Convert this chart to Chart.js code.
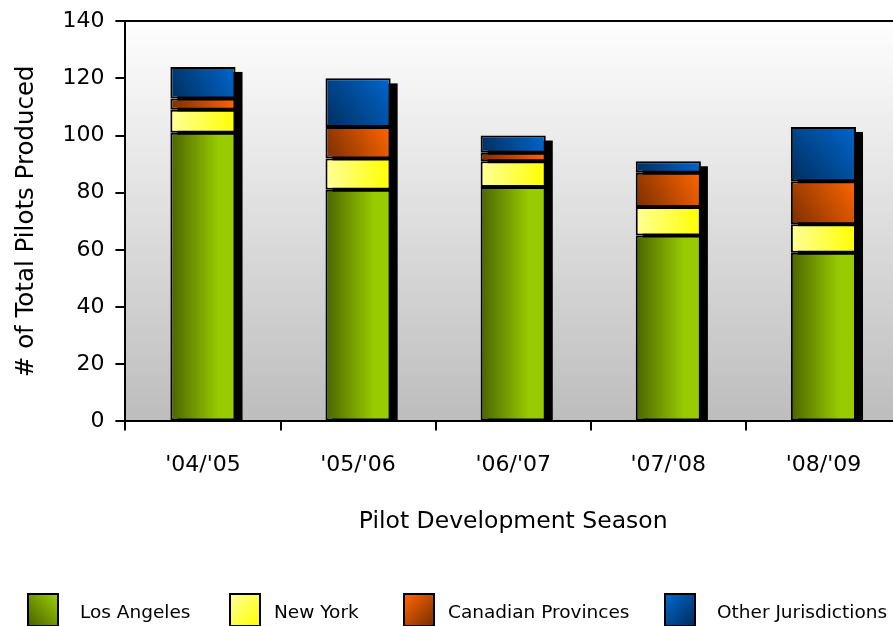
<!DOCTYPE html>
<html>
<head>
<meta charset="utf-8">
<script src="https://cdn.jsdelivr.net/npm/chart.js@4.4.0/dist/chart.umd.min.js"></script>
<style>
  html, body { margin: 0; padding: 0; background: #fff; overflow: hidden; }
  #wrap { position: relative; width: 910px; height: 626px; overflow: hidden; }
  #pilots { position: absolute; left: 0; top: -3px; }
  #legend { position: absolute; left: 0; top: 593px; width: 893px; height: 33px; font-family: "DejaVu Sans", sans-serif; font-size: 18.5px; color: #000; }
  .box { position: absolute; top: 0; width: 28px; height: 30px; border: 2px solid #000; }
  .lbl { position: absolute; top: 8px; white-space: nowrap; }
</style>
</head>
<body>
<div id="wrap">
  <canvas id="pilots" width="910" height="629"></canvas>
  <div id="legend"></div>
</div>
<script>
var seasons = ["'04/'05", "'05/'06", "'06/'07", "'07/'08", "'08/'09"];
var losAngeles = [101, 81, 82, 65, 59];
var newYork = [8, 11, 9, 10, 10];
var canadian = [4, 11, 3, 12, 15];
var otherJur = [11, 17, 6, 4, 19];
var yTicks = [0, 20, 40, 60, 80, 100, 120, 140];

var seriesNames = ["Los Angeles", "New York", "Canadian Provinces", "Other Jurisdictions"];
var seriesData = [losAngeles, newYork, canadian, otherJur];
// dark, light, diagonal gradient?
var seriesColors = [
  ["#4a6400", "#99cc00", false],
  ["#ffff99", "#ffff00", false],
  ["#7a2e00", "#ff6600", true],
  ["#002e5e", "#0066cc", true]
];
var barPct = 0.42;
var fontFam = "DejaVu Sans";

function barFill(si) {
  return function (ctx) {
    var chart = ctx.chart;
    var c = seriesColors[si];
    if (!chart.chartArea || !chart.scales.x) return c[1];
    var xs = chart.scales.x, ys = chart.scales.y;
    var cx = xs.getPixelForValue(ctx.dataIndex);
    var hw = (xs.width / seasons.length) * barPct / 2;
    var start = 0;
    for (var k = 0; k < si; k++) start += seriesData[k][ctx.dataIndex];
    var end = start + seriesData[si][ctx.dataIndex];
    var yb = ys.getPixelForValue(start), yt = ys.getPixelForValue(end);
    var g;
    if (c[2]) {
      g = chart.ctx.createLinearGradient(cx - hw, yb, cx + hw, yt);
    } else {
      g = chart.ctx.createLinearGradient(cx - hw, 0, cx + hw, 0);
    }
    g.addColorStop(0, c[0]);
    g.addColorStop(si === 0 ? 0.75 : 1, c[1]);
    g.addColorStop(1, c[1]);
    return g;
  };
}

var bgPlugin = {
  id: "plotBg",
  beforeDraw: function (chart) {
    var a = chart.chartArea, ctx = chart.ctx;
    var g = ctx.createLinearGradient(0, a.top, 0, a.bottom);
    g.addColorStop(0, "#fefefe");
    g.addColorStop(1, "#bdbdbd");
    ctx.save();
    ctx.fillStyle = g;
    ctx.fillRect(a.left, a.top, a.right - a.left, a.bottom - a.top);
    ctx.restore();
  }
};

var shadowPlugin = {
  id: "barShadow",
  beforeDatasetsDraw: function (chart) {
    var ctx = chart.ctx, a = chart.chartArea;
    var first = chart.getDatasetMeta(0), last = chart.getDatasetMeta(seriesData.length - 1);
    ctx.save();
    ctx.beginPath();
    ctx.rect(a.left, a.top, a.right - a.left, a.bottom - a.top);
    ctx.clip();
    ctx.fillStyle = "#000";
    for (var i = 0; i < seasons.length; i++) {
      var top = last.data[i], bot = first.data[i];
      ctx.fillRect(top.x - top.width / 2 + 7, top.y + 5, top.width, bot.base - top.y);
    }
    ctx.restore();
  }
};

var datasets = seriesNames.map(function (name, si) {
  return {
    label: name,
    data: seriesData[si],
    backgroundColor: barFill(si),
    borderColor: "#000",
    borderWidth: 2,
    borderSkipped: false,
    categoryPercentage: 1,
    barPercentage: barPct
  };
});

new Chart(document.getElementById("pilots"), {
  type: "bar",
  data: { labels: seasons, datasets: datasets },
  plugins: [bgPlugin, shadowPlugin],
  options: {
    responsive: false,
    animation: false,
    layout: { padding: { top: 6, right: 9, left: 12, bottom: 90 } },
    plugins: { legend: { display: false }, tooltip: { enabled: false } },
    scales: {
      x: {
        stacked: true,
        offset: true,
        grid: { offset: true, drawOnChartArea: false, color: "#000", tickColor: "#000", tickLength: 9, lineWidth: 2 },
        border: { color: "#000", width: 2 },
        ticks: { color: "#000", font: { family: fontFam, size: 22 }, padding: 22, maxRotation: 0 },
        title: { display: true, text: "Pilot Development Season", color: "#000", font: { family: fontFam, size: 23.5 }, padding: { top: 7, bottom: 0 } }
      },
      y: {
        stacked: true,
        min: 0,
        max: 140,
        afterBuildTicks: function (axis) {
          axis.ticks = yTicks.map(function (v) { return { value: v }; });
        },
        grid: {
          color: function (c) { return c.tick && c.tick.value === 140 ? "#000" : "rgba(0,0,0,0)"; },
          tickColor: "#000",
          tickLength: 10,
          lineWidth: 2
        },
        border: { color: "#000", width: 2 },
        ticks: { color: "#000", font: { family: fontFam, size: 22 }, padding: 11 },
        title: { display: true, text: "# of Total Pilots Produced", color: "#000", font: { family: fontFam, size: 24.5 }, padding: { top: 0, bottom: 10 } }
      }
    }
  }
});

// legend boxes drawn with the same gradient look
var legendPos = [[27, 80], [229, 274], [403, 448], [664, 717]];
var legendCss = [
  "linear-gradient(to bottom left, #99cc00, #4a6400)",
  "linear-gradient(to bottom right, #ffff99, #ffff00)",
  "linear-gradient(to bottom right, #ff6600, #7a2e00)",
  "linear-gradient(to bottom right, #0066cc, #002e5e)"
];
var leg = document.getElementById("legend");
seriesNames.forEach(function (name, si) {
  var box = document.createElement("div");
  box.className = "box";
  box.style.left = legendPos[si][0] + "px";
  box.style.background = legendCss[si];
  var lbl = document.createElement("div");
  lbl.className = "lbl";
  lbl.style.left = legendPos[si][1] + "px";
  lbl.textContent = name;
  leg.appendChild(box);
  leg.appendChild(lbl);
});
</script>
</body>
</html>
